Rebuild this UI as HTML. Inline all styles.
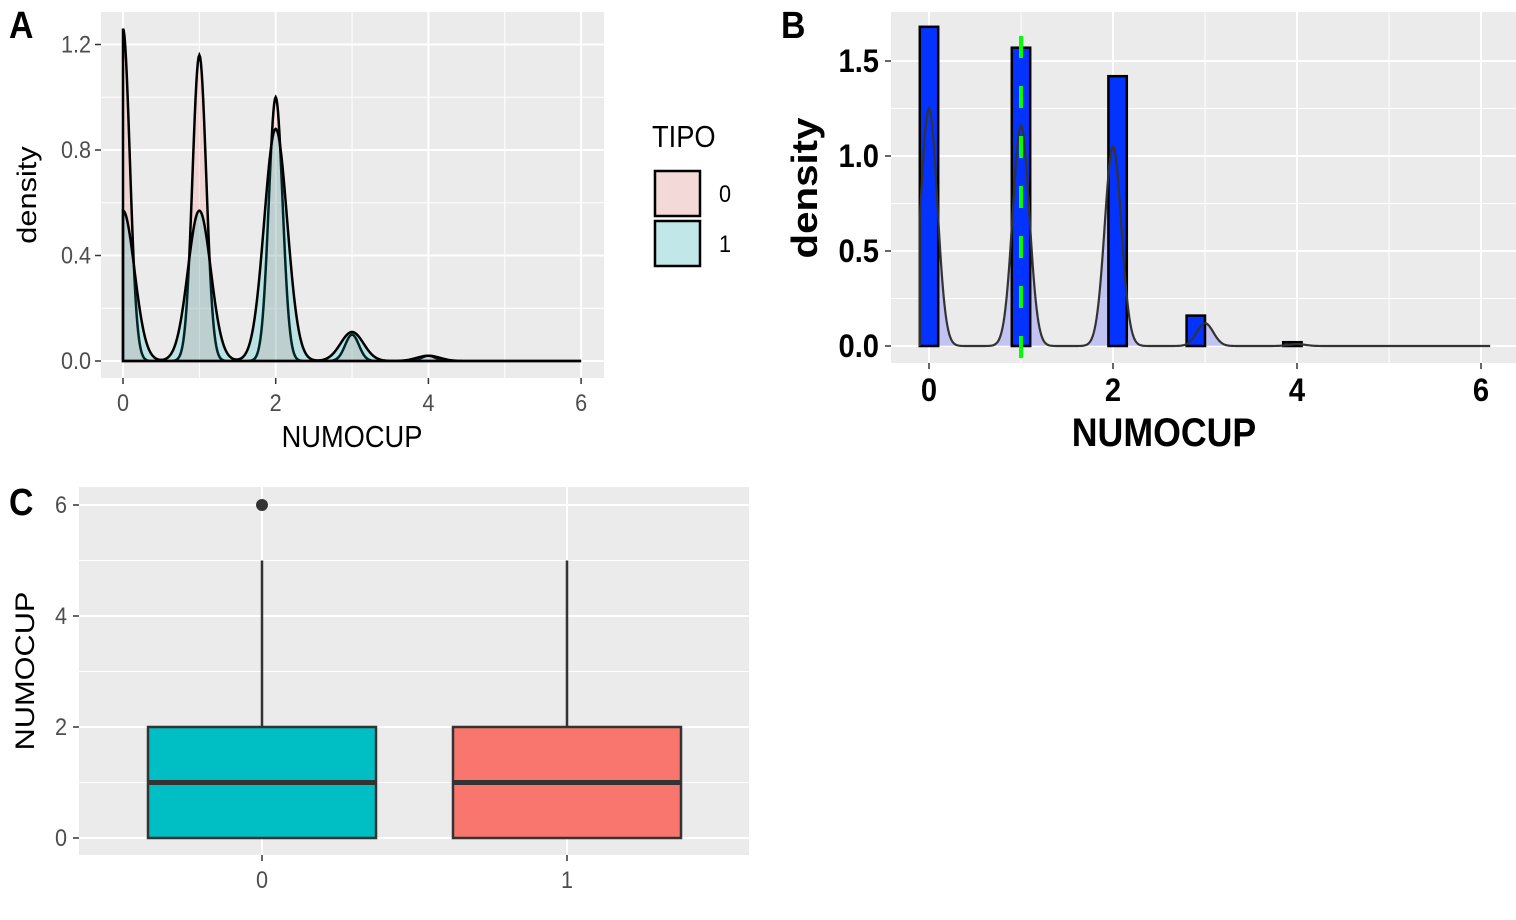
<!DOCTYPE html>
<html><head><meta charset="utf-8">
<style>
html,body{margin:0;padding:0;background:#fff;}
svg{display:block;font-family:"Liberation Sans",sans-serif;}
</style></head>
<body>
<svg id="s" width="1516" height="920" viewBox="0 0 1516 920" xmlns="http://www.w3.org/2000/svg"></svg>
<script>
// ---------- Panel A data ----------
const aCenters = [0, 1, 2, 3, 4];
const aPeaks0 = [1.26, 1.16, 1.00, 0.10, 0.02];
const aPeaks1 = [0.57, 0.57, 0.88, 0.11, 0.02];
const aXTicks = [0, 2, 4, 6];
const aYTicks = [0.0, 0.4, 0.8, 1.2];
const aYTickLabels = ["0.0", "0.4", "0.8", "1.2"];
const legendLabels = ["0", "1"];
// ---------- Panel B data ----------
const bBinStarts = [-0.1, 0.9, 1.95, 2.8, 3.85];
const bBinEnds = [0.1, 1.1, 2.15, 3.0, 4.05];
const bBarHeights = [1.68, 1.57, 1.42, 0.16, 0.02];
const bPeaks = [1.25, 1.16, 1.05, 0.12, 0.01];
const bCenters = [0, 1, 2, 3, 4];
const bMeanLine = [1];
const bXTicks = [0, 2, 4, 6];
const bYTicks = [0.0, 0.5, 1.0, 1.5];
const bYTickLabels = ["0.0", "0.5", "1.0", "1.5"];
// ---------- Panel C data ----------
const cCats = ["0", "1"];
const cQ1 = [0, 0];
const cMed = [1, 1];
const cQ3 = [2, 2];
const cWhiskLo = [0, 0];
const cWhiskHi = [5, 5];
const cOutliers = [[6], []];
const cYTicks = [0, 2, 4, 6];

const NS = "http://www.w3.org/2000/svg";
const svg = document.getElementById('s');
function mk(tag, attrs, parent) {
  const e = document.createElementNS(NS, tag);
  for (const k in attrs) e.setAttribute(k, attrs[k]);
  (parent || svg).appendChild(e);
  return e;
}
// text with slight vertical stretch to mimic condensed look
function txt(str, attrs, parent) {
  const x = attrs.x || 0, y = attrs.y || 0;
  const base = attrs.transform ? attrs.transform + ' ' : '';
  const a = Object.assign({}, attrs);
  a.transform = base + `translate(${x},${y}) scale(0.94,1.06) translate(${-x},${-y})`;
  const t = mk('text', a, parent); t.textContent = str; return t;
}

// ===== Panel A =====
const gA = mk('g', {});


const axL = 101, axR = 604, ayT = 12, ayB = 378;
const ax = v => 123 + v * 76.35;
const ay = v => 361 - v * 263.75;
mk('rect', {x: axL, y: ayT, width: axR - axL, height: ayB - ayT, fill: '#ebebeb'}, gA);
[1, 3, 5].forEach(v => mk('line', {x1: ax(v), x2: ax(v), y1: ayT, y2: ayB, stroke: '#fff', 'stroke-width': 1}, gA));
[0.2, 0.6, 1.0].forEach(v => mk('line', {x1: axL, x2: axR, y1: ay(v), y2: ay(v), stroke: '#fff', 'stroke-width': 1}, gA));
aXTicks.forEach(v => mk('line', {x1: ax(v), x2: ax(v), y1: ayT, y2: ayB, stroke: '#fff', 'stroke-width': 2}, gA));
aYTicks.forEach(v => mk('line', {x1: axL, x2: axR, y1: ay(v), y2: ay(v), stroke: '#fff', 'stroke-width': 2}, gA));
function dens(x, centers, peaks, sd) {
  let s = 0; for (let i = 0; i < centers.length; i++) { const d = (x - centers[i]) / sd; s += peaks[i] * Math.exp(-0.5 * d * d); } return s;
}
function densPath(xf, yf, centers, peaks, sd) {
  let p = `M${xf(0)},${yf(0)}`;
  for (let x = 0; x <= 6.0001; x += 0.01) p += ` L${xf(x).toFixed(2)},${yf(dens(x, centers, peaks, sd)).toFixed(2)}`;
  p += ` L${xf(6)},${yf(0)} Z`;
  return p;
}
const d0 = mk('path', {d: densPath(ax, ay, aCenters, aPeaks0, 0.09), fill: 'rgba(248,118,109,0.2)', stroke: '#000', 'stroke-width': 2.5}, gA);


const d1 = mk('path', {d: densPath(ax, ay, aCenters, aPeaks1, 0.15), fill: 'rgba(0,191,196,0.2)', stroke: '#000', 'stroke-width': 2.5}, gA);


aXTicks.forEach(v => {
  mk('line', {x1: ax(v), x2: ax(v), y1: ayB, y2: ayB + 6, stroke: '#333', 'stroke-width': 1.5}, gA);
  const t = txt(String(v), {x: ax(v), y: 411, 'text-anchor': 'middle', 'font-size': 23, fill: '#4d4d4d'}, gA);
  
  
});
aYTicks.forEach((v, i) => {
  mk('line', {x1: axL - 6, x2: axL, y1: ay(v), y2: ay(v), stroke: '#333', 'stroke-width': 1.5}, gA);
  const t = txt(aYTickLabels[i], {x: axL - 10, y: ay(v) + 8, 'text-anchor': 'end', 'font-size': 23, fill: '#4d4d4d'}, gA);
  
  
});
const xtA = txt('NUMOCUP', {x: 352, y: 447, 'text-anchor': 'middle', 'font-size': 29, fill: '#000'}, gA);


const ytA = mk('text', {x: 0, y: 0, transform: 'translate(36,195) rotate(-90) scale(1.06,0.94)', 'text-anchor': 'middle', 'font-size': 29, fill: '#000'}, gA);
ytA.textContent = 'density';


const tagA = txt('A', {x: 9, y: 38, 'font-size': 36, 'font-weight': 'bold', fill: '#000'}, gA);


// legend
const lg = mk('g', {}, gA);


txt('TIPO', {x: 652, y: 147, 'font-size': 29, fill: '#000'}, lg);
const legFills = ['rgba(248,118,109,0.2)', 'rgba(0,191,196,0.2)'];
legendLabels.forEach((lab, i) => {
  const y0 = 170 + i * 50;
  const e = mk('g', {}, lg);
  
  
  mk('rect', {x: 653, y: y0, width: 48, height: 47, fill: '#f2f2f2'}, e);
  mk('rect', {x: 655, y: y0 + 1, width: 45, height: 45, fill: legFills[i], stroke: '#000', 'stroke-width': 2.5}, e);
  txt(lab, {x: 719, y: y0 + 32, 'font-size': 23, fill: '#000'}, e);
});

// ===== Panel B =====
const gB = mk('g', {});


const bxL = 891, bxR = 1516, byT = 12, byB = 363;
const bx = v => 929 + v * 92;
const by = v => 346 - v * 190;
mk('rect', {x: bxL, y: byT, width: bxR - bxL, height: byB - byT, fill: '#ebebeb'}, gB);
[1, 3, 5].forEach(v => mk('line', {x1: bx(v), x2: bx(v), y1: byT, y2: byB, stroke: '#fff', 'stroke-width': 1}, gB));
[0.25, 0.75, 1.25].forEach(v => mk('line', {x1: bxL, x2: bxR, y1: by(v), y2: by(v), stroke: '#fff', 'stroke-width': 1}, gB));
bXTicks.forEach(v => mk('line', {x1: bx(v), x2: bx(v), y1: byT, y2: byB, stroke: '#fff', 'stroke-width': 2}, gB));
bYTicks.forEach(v => mk('line', {x1: bxL, x2: bxR, y1: by(v), y2: by(v), stroke: '#fff', 'stroke-width': 2}, gB));
function densPathB() {
  let p = `M${bx(-0.1)},${by(0)}`;
  for (let x = -0.1; x <= 6.1; x += 0.01) p += ` L${bx(x).toFixed(2)},${by(dens(x, bCenters, bPeaks, 0.09)).toFixed(2)}`;
  return p;
}
const bd = mk('path', {d: densPathB() + ` L${bx(6.1)},${by(0)} L${bx(-0.1)},${by(0)} Z`, fill: 'rgba(102,102,255,0.3)', stroke: 'none'}, gB);


bBarHeights.forEach((h, i) => {
  const r = mk('rect', {x: bx(bBinStarts[i]), y: by(h), width: bx(bBinEnds[i]) - bx(bBinStarts[i]), height: by(0) - by(h), fill: '#0433ff', stroke: '#000', 'stroke-width': 2.5}, gB);
  
  
});
const bl = mk('path', {d: densPathB(), fill: 'none', stroke: '#333', 'stroke-width': 2.2}, gB);


bMeanLine.forEach(v => {
  const l = mk('line', {x1: bx(v), x2: bx(v), y1: 36, y2: 358, stroke: '#00ff00', 'stroke-width': 4, 'stroke-dasharray': '22 28'}, gB);
  
  
});
bXTicks.forEach(v => {
  mk('line', {x1: bx(v), x2: bx(v), y1: byB, y2: byB + 6, stroke: '#333', 'stroke-width': 1.5}, gB);
  const t = txt(String(v), {x: bx(v), y: 401, 'text-anchor': 'middle', 'font-size': 31, 'font-weight': 'bold', fill: '#000'}, gB);
  
  
});
bYTicks.forEach((v, i) => {
  mk('line', {x1: bxL - 6, x2: bxL, y1: by(v), y2: by(v), stroke: '#333', 'stroke-width': 1.5}, gB);
  const t = txt(bYTickLabels[i], {x: bxL - 12, y: by(v) + 11, 'text-anchor': 'end', 'font-size': 31, 'font-weight': 'bold', fill: '#000'}, gB);
  
  
});
const xtB = txt('NUMOCUP', {x: 1164, y: 446, 'text-anchor': 'middle', 'font-size': 38, 'font-weight': 'bold', fill: '#000'}, gB);


const ytB = mk('text', {x: 0, y: 0, transform: 'translate(817,188) rotate(-90) scale(1.06,0.94)', 'text-anchor': 'middle', 'font-size': 38, 'font-weight': 'bold', fill: '#000'}, gB);
ytB.textContent = 'density';


const tagB = txt('B', {x: 781, y: 38, 'font-size': 36, 'font-weight': 'bold', fill: '#000'}, gB);



// ===== Panel C =====
const gC = mk('g', {});


const cxL = 79, cxR = 749, cyT = 487, cyB = 855;
const cx = i => 262 + i * 305;
const cy = v => 838 - v * 55.5;
mk('rect', {x: cxL, y: cyT, width: cxR - cxL, height: cyB - cyT, fill: '#ebebeb'}, gC);
[1, 3, 5].forEach(v => mk('line', {x1: cxL, x2: cxR, y1: cy(v), y2: cy(v), stroke: '#fff', 'stroke-width': 1}, gC));
cYTicks.forEach(v => mk('line', {x1: cxL, x2: cxR, y1: cy(v), y2: cy(v), stroke: '#fff', 'stroke-width': 2}, gC));
cCats.forEach((c, i) => mk('line', {x1: cx(i), x2: cx(i), y1: cyT, y2: cyB, stroke: '#fff', 'stroke-width': 2}, gC));
const boxFills = ['#00bfc4', '#f8766d'];
const hw = 114;
cCats.forEach((c, i) => {
  const g = mk('g', {}, gC);
  
  
  mk('line', {x1: cx(i), x2: cx(i), y1: cy(cWhiskHi[i]), y2: cy(cQ3[i]), stroke: '#333', 'stroke-width': 2.5}, g);
  mk('line', {x1: cx(i), x2: cx(i), y1: cy(cQ1[i]), y2: cy(cWhiskLo[i]), stroke: '#333', 'stroke-width': 2.5}, g);
  mk('rect', {x: cx(i) - hw, y: cy(cQ3[i]), width: 2 * hw, height: cy(cQ1[i]) - cy(cQ3[i]), fill: boxFills[i], stroke: '#333', 'stroke-width': 2.5}, g);
  mk('line', {x1: cx(i) - hw, x2: cx(i) + hw, y1: cy(cMed[i]), y2: cy(cMed[i]), stroke: '#333', 'stroke-width': 5}, g);
  cOutliers[i].forEach(o => {
    const p = mk('circle', {cx: cx(i), cy: cy(o), r: 6, fill: '#333'}, g);
    
    
  });
  mk('line', {x1: cx(i), x2: cx(i), y1: cyB, y2: cyB + 6, stroke: '#333', 'stroke-width': 1.5}, gC);
  const t = txt(c, {x: cx(i), y: 888, 'text-anchor': 'middle', 'font-size': 23, fill: '#4d4d4d'}, gC);
  
  
});
cYTicks.forEach(v => {
  mk('line', {x1: cxL - 6, x2: cxL, y1: cy(v), y2: cy(v), stroke: '#333', 'stroke-width': 1.5}, gC);
  const t = txt(String(v), {x: cxL - 12, y: cy(v) + 8, 'text-anchor': 'end', 'font-size': 23, fill: '#4d4d4d'}, gC);
  
  
});
const ytC = mk('text', {x: 0, y: 0, transform: 'translate(34,671) rotate(-90) scale(1.06,0.94)', 'text-anchor': 'middle', 'font-size': 29, fill: '#000'}, gC);
ytC.textContent = 'NUMOCUP';


const tagC = txt('C', {x: 9, y: 515, 'font-size': 36, 'font-weight': 'bold', fill: '#000'}, gC);


</script>
</body></html>
